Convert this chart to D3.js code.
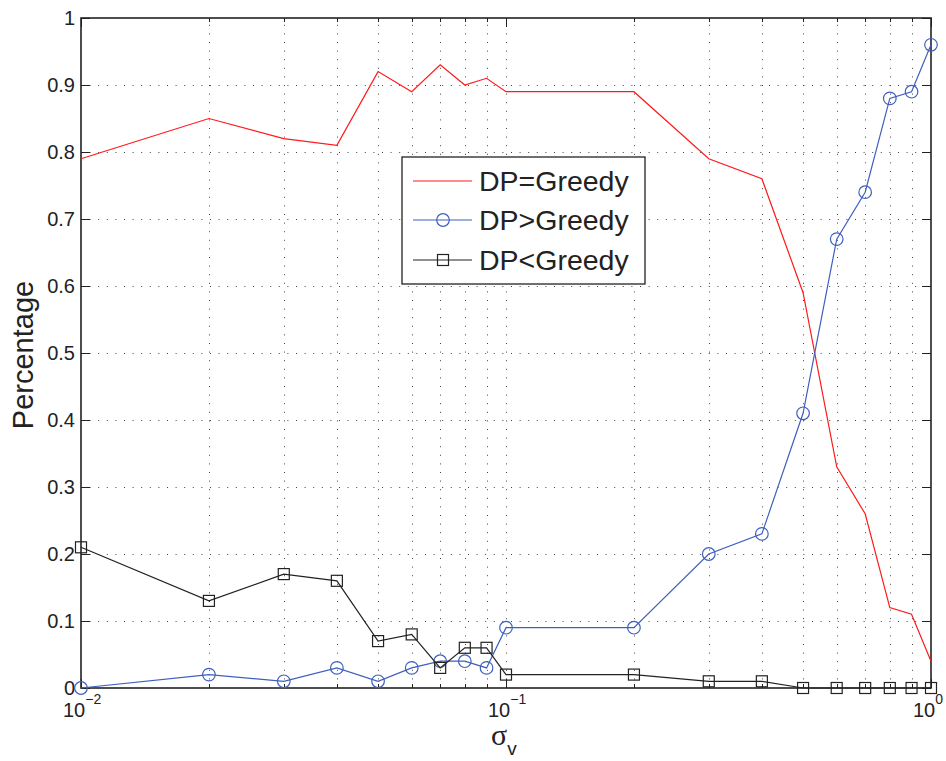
<!DOCTYPE html>
<html>
<head>
<meta charset="utf-8">
<script src="https://cdn.jsdelivr.net/npm/d3@7"></script>
<style>
  html, body { margin: 0; padding: 0; background: #fff; }
  svg { display: block; font-family: Helvetica, "Liberation Sans", Arial, sans-serif; }
</style>
</head>
<body>
<svg id="chart" width="946" height="761"></svg>
<script>
// Noise level sigma_v
const sigma = [0.01, 0.02, 0.03, 0.04, 0.05, 0.06, 0.07, 0.08, 0.09, 0.1,
               0.2, 0.3, 0.4, 0.5, 0.6, 0.7, 0.8, 0.9, 1.0];
// Share of runs per outcome
const dpEqual   = [0.79, 0.85, 0.82, 0.81, 0.92, 0.89, 0.93, 0.90, 0.91, 0.89,
                   0.89, 0.79, 0.76, 0.59, 0.33, 0.26, 0.12, 0.11, 0.04];
const dpGreater = [0.00, 0.02, 0.01, 0.03, 0.01, 0.03, 0.04, 0.04, 0.03, 0.09,
                   0.09, 0.20, 0.23, 0.41, 0.67, 0.74, 0.88, 0.89, 0.96];
const dpLess    = [0.21, 0.13, 0.17, 0.16, 0.07, 0.08, 0.03, 0.06, 0.06, 0.02,
                   0.02, 0.01, 0.01, 0.00, 0.00, 0.00, 0.00, 0.00, 0.00];
const yTicks = [0, 0.1, 0.2, 0.3, 0.4, 0.5, 0.6, 0.7, 0.8, 0.9, 1];
const yTickLabels = ["0", "0.1", "0.2", "0.3", "0.4", "0.5", "0.6", "0.7", "0.8", "0.9", "1"];
const xMajor = [0.01, 0.1, 1];
const xMajorExp = ["\u22122", "\u22121", "0"];
const legendLabels = ["DP=Greedy", "DP>Greedy", "DP<Greedy"];

const colors = { red: "#ff1a1a", blue: "#3f5fbf", black: "#222222" };

const m = { left: 81, right: 931, top: 18, bottom: 688 };
const svg = d3.select("#chart");

const x = d3.scaleLog().domain([0.01, 1]).range([m.left, m.right]);
const y = d3.scaleLinear().domain([0, 1]).range([m.bottom, m.top]);

// minor decade positions
const xMinor = [];
for (let e = -2; e < 0; e++) {
  for (let k = 2; k <= 9; k++) xMinor.push(k * Math.pow(10, e));
}
const xAll = xMinor.concat(xMajor);

// dotted grid
const grid = svg.append("g").attr("stroke", "#444").attr("stroke-width", 1)
  .attr("stroke-dasharray", "1,7.6");
grid.selectAll(".gx").data(xAll.filter(v => v > 0.01 && v < 1)).enter().append("line")
  .attr("x1", d => Math.round(x(d)) + 0.5).attr("x2", d => Math.round(x(d)) + 0.5)
  .attr("y1", m.bottom).attr("y2", m.top);
grid.selectAll(".gy").data(yTicks.filter(v => v > 0 && v < 1)).enter().append("line")
  .attr("y1", d => Math.round(y(d)) + 0.5).attr("y2", d => Math.round(y(d)) + 0.5)
  .attr("x1", m.left).attr("x2", m.right);

// inward ticks on all four sides
const ticks = svg.append("g").attr("stroke", "#222").attr("stroke-width", 1);
yTicks.forEach(v => {
  const yy = Math.round(y(v)) + 0.5;
  ticks.append("line").attr("x1", m.left).attr("x2", m.left + 9).attr("y1", yy).attr("y2", yy);
  ticks.append("line").attr("x1", m.right).attr("x2", m.right - 9).attr("y1", yy).attr("y2", yy);
});
xAll.forEach(v => {
  const xx = Math.round(x(v)) + 0.5;
  const len = xMajor.includes(v) ? 9 : 4;
  ticks.append("line").attr("x1", xx).attr("x2", xx).attr("y1", m.bottom).attr("y2", m.bottom - len);
  ticks.append("line").attr("x1", xx).attr("x2", xx).attr("y1", m.top).attr("y2", m.top + len);
});

// frame
svg.append("rect").attr("x", m.left).attr("y", m.top)
  .attr("width", m.right - m.left).attr("height", m.bottom - m.top)
  .attr("fill", "none").attr("stroke", "#222").attr("stroke-width", 1.6);

// y tick labels
svg.append("g").selectAll("text").data(yTicks).enter().append("text")
  .attr("x", m.left - 6).attr("y", d => y(d) + 7)
  .attr("text-anchor", "end").attr("font-size", 20).attr("fill", "#222")
  .text((d, i) => yTickLabels[i]);

// x tick labels: 10^e
const xl = svg.append("g").attr("fill", "#222");
xMajor.forEach((v, i) => {
  const t = xl.append("text").attr("x", x(v) - 18).attr("y", 717)
    .attr("font-size", 20).attr("text-anchor", "start");
  t.append("tspan").text("10");
  t.append("tspan").attr("dy", -13).attr("font-size", 14).text(xMajorExp[i]);
});

// axis titles
svg.append("text").attr("transform", "translate(33,355) rotate(-90)")
  .attr("text-anchor", "middle").attr("font-size", 29).attr("fill", "#222").text("Percentage");
const xt = svg.append("text").attr("x", 491).attr("y", 745).attr("fill", "#222")
  .attr("text-anchor", "start").attr("font-size", 30);
xt.append("tspan").attr("font-family", "'Liberation Serif', 'DejaVu Serif', serif").text("\u03c3");
xt.append("tspan").attr("dy", 10).attr("font-size", 19).text("v");

// series
const line = d3.line().x(d => x(d[0])).y(d => y(d[1]));
const zip = vals => sigma.map((s, i) => [s, vals[i]]);

svg.append("path").datum(zip(dpEqual)).attr("d", line)
  .attr("fill", "none").attr("stroke", colors.red).attr("stroke-width", 1.2);

svg.append("path").datum(zip(dpGreater)).attr("d", line)
  .attr("fill", "none").attr("stroke", colors.blue).attr("stroke-width", 1.2);
svg.append("g").selectAll("circle").data(zip(dpGreater)).enter().append("circle")
  .attr("cx", d => x(d[0])).attr("cy", d => y(d[1])).attr("r", 6.3)
  .attr("fill", "none").attr("stroke", colors.blue).attr("stroke-width", 1.2);

svg.append("path").datum(zip(dpLess)).attr("d", line)
  .attr("fill", "none").attr("stroke", colors.black).attr("stroke-width", 1.2);
svg.append("g").selectAll("rect").data(zip(dpLess)).enter().append("rect")
  .attr("x", d => x(d[0]) - 5.5).attr("y", d => y(d[1]) - 5.5)
  .attr("width", 11).attr("height", 11)
  .attr("fill", "none").attr("stroke", colors.black).attr("stroke-width", 1.2);

// legend
const lg = svg.append("g");
lg.append("rect").attr("x", 402).attr("y", 157).attr("width", 243).attr("height", 127)
  .attr("fill", "#fff").attr("stroke", "#222").attr("stroke-width", 1.3);
const rows = [181, 220, 260];
const lineColors = [colors.red, colors.blue, colors.black];
rows.forEach((ry, i) => {
  lg.append("line").attr("x1", 413).attr("x2", 472).attr("y1", ry).attr("y2", ry)
    .attr("stroke", lineColors[i]).attr("stroke-width", 1.2);
  if (i === 1) lg.append("circle").attr("cx", 443).attr("cy", ry).attr("r", 6.3)
    .attr("fill", "none").attr("stroke", colors.blue).attr("stroke-width", 1.2);
  if (i === 2) lg.append("rect").attr("x", 437.5).attr("y", ry - 5.5).attr("width", 11).attr("height", 11)
    .attr("fill", "none").attr("stroke", colors.black).attr("stroke-width", 1.2);
  lg.append("text").attr("x", 479).attr("y", ry + 10).attr("font-size", 28.5).attr("fill", "#222")
    .text(legendLabels[i]);
});
</script>
</body>
</html>
